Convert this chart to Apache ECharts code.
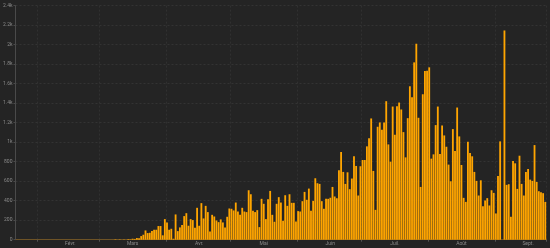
<!DOCTYPE html>
<html><head><meta charset="utf-8">
<script src="https://cdn.jsdelivr.net/npm/echarts@6/dist/echarts.min.js"></script>
<style>html,body{margin:0;padding:0;background:#242424;}#c{width:550px;height:248px;}</style>
</head><body><div id="c"></div>
<script>
// Month labels (French) and the first day shown in each month (data start 22 Jan 2020)
const monthNames = ['Janv.','Févr.','Mars','Avr.','Mai','Juin','Juil.','Août','Sept.'];
const firstDays = [22,1,1,1,1,1,1,1,1];

// Daily values per month
const jan = [0,0,0,0,0,0,0,0,0,0];
const feb = [0,0,0,0,0,0,0,0,0,0,0,0,0,0,0,0,0,0,0,0,0,0,0,0,0,0,0,0,0];
const mar = [0,0,0,0,0,0,0,4,0,3,0,2,0,6,4,10,8,17,15,37,51,95,68,71,88,102,102,140,140,45,211];
const apr = [177,102,112,10,259,88,126,150,242,272,143,211,201,123,327,143,375,218,347,283,85,255,238,197,180,208,177,126,235,320];
const may = [317,300,381,289,255,327,289,283,507,466,296,283,303,129,419,368,211,415,500,255,184,368,436,381,194,456,347,466,378,378,187];
const jun = [293,289,395,490,409,524,296,398,630,579,572,395,317,419,419,430,541,443,425,712,899,695,572,691,518,627,855,756,453,753];
const jul = [817,817,957,1039,1243,705,306,1158,1202,1127,1202,1420,977,800,1365,1076,1369,1406,1335,1103,844,1246,1573,1461,1818,2009,1250,541,1491,1730,1733];
const aug = [1767,831,875,1175,1365,878,1171,1069,953,770,599,1134,909,1355,1059,766,429,388,1004,889,855,695,603,453,609,344,402,426,351,507,480];
const sep = [269,654,1008,0,2145,562,569,235,807,783,521,861,572,453,695,725,616,603,970,592,497,487,477,388];

const yTickLabels = ['0','200','400','600','800','1k','1.2k','1.4k','1.6k','1.8k','2k','2.2k','2.4k'];

const months = [jan,feb,mar,apr,may,jun,jul,aug,sep];
const pad = n => (n < 10 ? '0' : '') + n;
const categories = [];
const values = [];
months.forEach((arr, m) => {
  arr.forEach((v, d) => {
    categories.push('2020-' + pad(m + 1) + '-' + pad(firstDays[m] + d));
    values.push(v);
  });
});

const chart = echarts.init(document.getElementById('c'), null, {renderer: 'canvas'});
const isFirst = (i, v) => v.slice(8) === '01';
chart.setOption({
  animation: false,
  backgroundColor: '#242424',
  grid: {left: 15.3, right: 3.65, top: 5.6, bottom: 8.3, containLabel: false},
  xAxis: {
    type: 'category',
    data: categories,
    boundaryGap: true,
    axisLine: {show: true, lineStyle: {color: '#6e5326', width: 1}},
    axisTick: {show: true, interval: isFirst, length: 2, lineStyle: {color: '#555'}},
    axisLabel: {
      interval: (i, v) => v.slice(8) === '16',
      formatter: v => monthNames[parseInt(v.slice(5, 7), 10) - 1],
      fontSize: 5, color: '#8a8a8a', margin: 2, fontFamily: 'Roboto'
    },
    splitLine: {show: true, interval: isFirst, lineStyle: {color: '#303030', type: [2, 2], width: 1}}
  },
  yAxis: {
    type: 'value',
    min: 0, max: 2400, interval: 200,
    axisLine: {show: true, lineStyle: {color: '#4a4a4a'}},
    axisTick: {show: true, length: 2, lineStyle: {color: '#4a4a4a'}},
    axisLabel: {
      formatter: v => yTickLabels[Math.round(v / 200)],
      fontSize: 5, color: '#8a8a8a', margin: 3, fontFamily: 'Roboto'
    },
    splitLine: {show: true, lineStyle: {color: '#333', type: [2, 2], width: 1}}
  },
  series: [{
    type: 'bar',
    data: values,
    barCategoryGap: '15%',
    itemStyle: {color: '#FFA500'}
  }]
});
</script>
</body></html>
